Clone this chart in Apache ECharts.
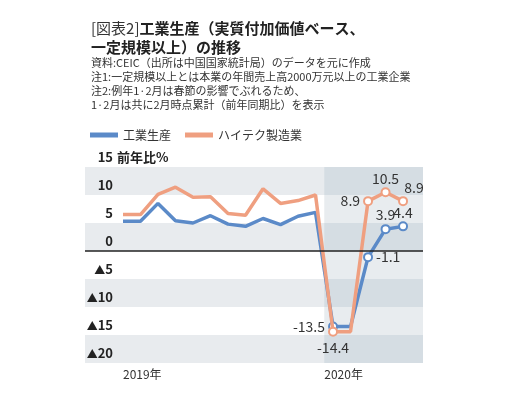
<!DOCTYPE html>
<html>
<head>
<meta charset="utf-8">
<script src="https://cdn.jsdelivr.net/npm/echarts@6/dist/echarts.min.js"></script>
<style>
html,body{margin:0;padding:0;background:#fff;}
#chart{width:510px;height:393px;}
</style>
</head>
<body>
<div id="chart"></div>
<script>
// ---- data ----
const periods = ['2019-01','2019-02','2019-03','2019-04','2019-05','2019-06','2019-07','2019-08','2019-09','2019-10','2019-11','2019-12','2020-01','2020-02','2020-03','2020-04','2020-05'];
const industrial = [5.3, 5.3, 8.5, 5.4, 5.0, 6.3, 4.8, 4.4, 5.8, 4.7, 6.2, 6.9, -13.5, -13.5, -1.1, 3.9, 4.4];
const hightech = [6.5, 6.5, 10.1, 11.4, 9.6, 9.7, 6.7, 6.4, 11.1, 8.5, 9.0, 10.0, -14.4, -14.4, 8.9, 10.5, 8.9];
const seriesNames = ['工業生産', 'ハイテク製造業'];
const yearLabels = ['2019年', '2020年'];
const yearStarts = [0, 11.5];          // axis values where each year label starts
const markedIdx = [12, 14, 15, 16];     // points drawn with hollow markers and labels
const yTicks = [-20, -15, -10, -5, 0, 5, 10, 15];
const yUnit = '前年比%';

// ---- styles ----
const FONT = "'Noto Sans CJK JP', 'Noto Sans', sans-serif";
const BLUE = '#5b8ac8';
const ORANGE = '#ef9f80';
const blueLabelPos = {12: {position: 'left', distance: 3}, 14: {position: 'right', distance: 3}, 15: {position: 'top', distance: 2}, 16: {position: 'top', distance: 2}};
const orangeLabelPos = {12: {position: 'bottom', distance: 4}, 14: {position: 'left', distance: 3}, 15: {position: 'top', distance: 2}, 16: {position: 'top', distance: 1, offset: [11, 0]}};

function buildData(values, color, labelPos) {
  return values.map((v, i) => {
    if (markedIdx.indexOf(i) >= 0) {
      const lp = labelPos[i];
      return {
        value: [i, v],
        symbol: 'circle',
        symbolSize: 8,
        itemStyle: {color: '#fff', borderColor: color, borderWidth: 2},
        label: Object.assign({
          show: true,
          formatter: p => p.value[1].toFixed(1),
          fontSize: 14,
          color: '#333',
          fontFamily: FONT
        }, lp)
      };
    }
    return {value: [i, v], symbol: 'none'};
  });
}

// 2020 shading bands (darker shades of the alternating bands)
const bandColors2020 = ['#d5dde3', '#e8ecef'];
const shadeAreas = [];
for (let k = 0; k < yTicks.length - 1; k++) {
  shadeAreas.push([
    {xAxis: yearStarts[1], yAxis: yTicks[k], itemStyle: {color: bandColors2020[k % 2]}},
    {xAxis: 17.14, yAxis: yTicks[k + 1]}
  ]);
}

const yBase = {
  type: 'value',
  min: -20,
  max: 15,
  interval: 5,
  position: 'left',
  axisLine: {show: false},
  axisTick: {show: false},
  splitLine: {show: false}
};

const chart = echarts.init(document.getElementById('chart'), null, {renderer: 'canvas'});
chart.setOption({
  animation: false,
  backgroundColor: '#fff',
  textStyle: {fontFamily: FONT},
  title: {
    left: 86,
    top: 14,
    itemGap: 3,
    text: '{a|[図表2]}{b|工業生産（実質付加価値ベース、}\n{b|一定規模以上）の推移}',
    textStyle: {
      rich: {
        a: {fontSize: 15, fontWeight: 'normal', color: '#333', lineHeight: 19, fontFamily: FONT},
        b: {fontSize: 15, fontWeight: 'bold', color: '#222', lineHeight: 19, fontFamily: FONT}
      }
    },
    subtext: '資料:CEIC（出所は中国国家統計局）のデータを元に作成\n注1:一定規模以上とは本業の年間売上高2000万元以上の工業企業\n注2:例年1·2月は春節の影響でぶれるため、\n1·2月は共に2月時点累計（前年同期比）を表示',
    subtextStyle: {fontSize: 11, lineHeight: 14, color: '#333', fontFamily: FONT}
  },
  legend: {
    left: 85,
    top: 124,
    icon: 'rect',
    itemWidth: 28,
    itemHeight: 5,
    itemGap: 14,
    itemStyle: {borderWidth: 0},
    textStyle: {fontSize: 12, color: '#333', fontFamily: FONT},
    data: [
      {name: seriesNames[0], icon: 'rect', itemStyle: {color: BLUE, borderWidth: 0}},
      {name: seriesNames[1], icon: 'rect', itemStyle: {color: ORANGE, borderWidth: 0}}
    ]
  },
  grid: {left: 85, right: 87, top: 167, bottom: 30, containLabel: false},
  xAxis: {
    type: 'value',
    min: -2.17,
    max: 17.14,
    axisLine: {show: false},
    axisTick: {show: false},
    splitLine: {show: false},
    axisLabel: {
      customValues: yearStarts,
      formatter: v => yearLabels[yearStarts.indexOf(v)],
      align: 'left',
      margin: 5,
      fontSize: 12,
      color: '#333'
    }
  },
  yAxis: [
    Object.assign({}, yBase, {
      splitArea: {show: true, areaStyle: {color: ['#e8ebee', '#ffffff']}},
      axisLabel: {
        align: 'right',
        verticalAlign: 'bottom',
        margin: -28,
        padding: [0, 0, 3, 0],
        formatter: v => {
          if (v < 0) return '{t|▲}{n|' + (-v) + '}';
          return '{n|' + v + '}';
        },
        rich: {
          n: {fontSize: 13, fontWeight: 'bold', color: '#222', fontFamily: FONT},
          t: {fontSize: 11, fontWeight: 'bold', color: '#222', fontFamily: FONT}
        }
      }
    }),
    Object.assign({}, yBase, {
      splitArea: {show: false},
      axisLabel: {
        align: 'left',
        verticalAlign: 'bottom',
        margin: -32,
        padding: [0, 0, 3, 0],
        formatter: v => (v === yTicks[yTicks.length - 1] ? yUnit : ''),
        fontSize: 13,
        fontWeight: 'bold',
        color: '#222',
        fontFamily: FONT
      }
    })
  ],
  series: [
    {
      name: seriesNames[0],
      type: 'line',
      color: BLUE,
      itemStyle: {color: BLUE},
      lineStyle: {width: 3.5, color: BLUE},
      data: buildData(industrial, BLUE, blueLabelPos),
      z: 3,
      markArea: {silent: true, data: shadeAreas},
      markLine: {
        silent: true,
        symbol: 'none',
        label: {show: false},
        lineStyle: {color: '#222', width: 1.5, type: 'solid'},
        data: [{yAxis: 0}]
      }
    },
    {
      name: seriesNames[1],
      type: 'line',
      color: ORANGE,
      itemStyle: {color: ORANGE},
      lineStyle: {width: 3.5, color: ORANGE},
      data: buildData(hightech, ORANGE, orangeLabelPos),
      z: 4
    }
  ]
});
</script>
</body>
</html>
